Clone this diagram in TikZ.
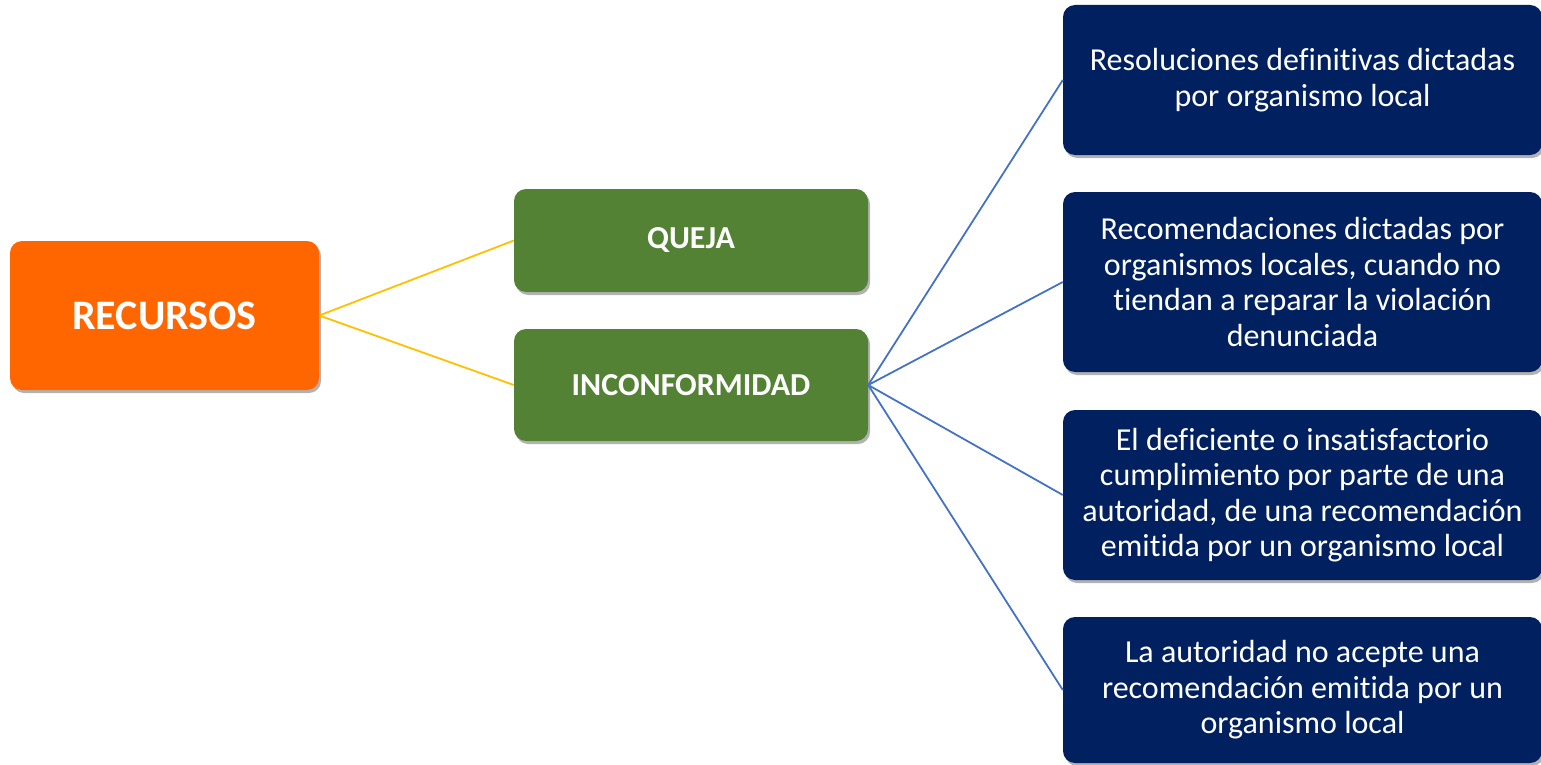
\documentclass[tikz,border=0pt]{standalone}
\usepackage{fontspec}
\setmainfont{Carlito}[Ligatures={NoCommon}]
\usetikzlibrary{shadows}
\definecolor{orng}{HTML}{FF6600}
\definecolor{grn}{HTML}{548235}
\definecolor{navy}{HTML}{002060}
\definecolor{ylw}{HTML}{FFC000}
\definecolor{blu}{HTML}{4472C4}
\tikzset{
  box/.style={rounded corners=12pt, text=white, align=center, inner sep=0pt,
    drop shadow={shadow xshift=2pt, shadow yshift=-3pt, opacity=0.3, fill=black}},
  rootbox/.style={box, fill=orng, minimum width=309pt, minimum height=149pt, font=\fontsize{42}{46}\selectfont\bfseries},
  midbox/.style={box, fill=grn, minimum width=354pt, font=\fontsize{32}{36}\selectfont\bfseries},
  leafbox/.style={box, fill=navy, minimum width=479pt, font=\fontsize{32}{35.5}\selectfont},
  ylink/.style={ylw, line width=1.8pt},
  blink/.style={blu, line width=1.8pt}
}
\begin{document}
\begin{tikzpicture}[x=1pt,y=-1pt]
\useasboundingbox (0,0) rectangle (1541,765);
\node[rootbox] (rec) at (164.5,315.5) {RECURSOS};
\node[midbox, minimum height=103pt] (que) at (691,240.5) {QUEJA};
\node[midbox, minimum height=112pt] (inc) at (691,385) {INCONFORMIDAD};
\node[leafbox, minimum height=150pt] (l1) at (1302.5,80) {Resoluciones definitivas dictadas\\por organismo local};
\node[leafbox, minimum height=180pt] (l2) at (1302.5,282) {Recomendaciones dictadas por\\organismos locales, cuando no\\tiendan a reparar la violación\\denunciada};
\node[leafbox, minimum height=170pt] (l3) at (1302.5,495) {El deficiente o insatisfactorio\\cumplimiento por parte de una\\autoridad, de una recomendación\\emitida por un organismo local};
\node[leafbox, minimum height=146pt] (l4) at (1302.5,690) {La autoridad no acepte una\\recomendación emitida por un\\organismo local};
\draw[ylink] (rec.east) -- (que.west);
\draw[ylink] (rec.east) -- (inc.west);
\draw[blink] (inc.east) -- (l1.west);
\draw[blink] (inc.east) -- (l2.west);
\draw[blink] (inc.east) -- (l3.west);
\draw[blink] (inc.east) -- (l4.west);
\end{tikzpicture}
\end{document}
